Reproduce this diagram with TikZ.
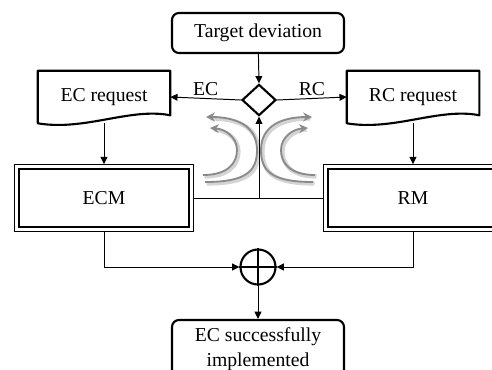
\documentclass[tikz,border=0pt]{standalone}
\usepackage{fontspec}
\setmainfont{Liberation Serif}
\usetikzlibrary{arrows.meta, positioning, shapes.geometric, calc}
\definecolor{swirlgray}{HTML}{8A8A8A}
\definecolor{shadegray}{HTML}{D4D4D4}

\begin{document}
\begin{tikzpicture}[
      x=0.025cm, y=-0.025cm,
      font=\fontsize{14}{17.5}\selectfont,
      termbox/.style={rectangle, rounded corners=5pt, draw, line width=1.5pt,
                      minimum width=4.3cm, minimum height=1cm, align=center},
      docbox/.style={rectangle, minimum width=3.3cm, minimum height=1.3cm, inner sep=0pt},
      docline/.style={line width=1.5pt, line join=round},
      modbox/.style={rectangle, draw, line width=1.2pt,
                     minimum width=4.25cm, minimum height=1.45cm},
      arr/.style={-{Triangle[length=1.8mm, width=1.7mm]}, line width=0.7pt},
      swirl/.style={-{Stealth[length=2.2mm, width=2.2mm]}, line width=1.3pt, swirlgray},
      shade/.style={line width=3pt, shadegray}
    ]
      \useasboundingbox (0,0) rectangle (492,369);

      % top of the flow
      \node[termbox] (target) at (258,33) {Target deviation};
      \node[diamond, draw, line width=1.5pt, minimum width=0.85cm, minimum height=0.78cm,
            inner sep=0pt] (split) at (259,100) {};
      \node[docbox] (ecreq) at (104,97) {EC request};
      \node[docbox] (rcreq) at (413,97) {RC request};

      % document outlines
      \draw[docline] (ecreq.south west) -- (ecreq.north west) -- (ecreq.north east)
        -- ([yshift=0.2cm]ecreq.south east)
        .. controls ([xshift=-1cm, yshift=0.4cm]ecreq.south east)
        and ([xshift=1.175cm, yshift=-0.2cm]ecreq.south west) .. cycle;
      \draw[docline] (rcreq.south west) -- (rcreq.north west) -- (rcreq.north east)
        -- ([yshift=0.2cm]rcreq.south east)
        .. controls ([xshift=-1cm, yshift=0.4cm]rcreq.south east)
        and ([xshift=1.175cm, yshift=-0.2cm]rcreq.south west) .. cycle;

      % modules
      \node[modbox] (ecm) at (104,198) {ECM};
      \node[modbox] (rm) at (413,198) {RM};
      \draw[line width=0.6pt] ([shift={(-0.1cm,0.1cm)}]ecm.north west)
        rectangle ([shift={(0.1cm,-0.1cm)}]ecm.south east);
      \draw[line width=0.6pt] ([shift={(-0.1cm,0.1cm)}]rm.north west)
        rectangle ([shift={(0.1cm,-0.1cm)}]rm.south east);

      % bottom of the flow
      \node[circle, draw, line width=1.5pt, minimum size=0.875cm, inner sep=0pt] (sum) at (258,267) {};
      \draw[line width=1.2pt] (sum.north) -- (sum.south) (sum.west) -- (sum.east);
      \node[termbox, minimum height=1.45cm] (done) at (258,349) {EC successfully\\implemented};

      % feedback swirls
      \begin{scope}[shift={(1.5,1.5)}]
        \draw[shade] (205,182) .. controls (245,182) and (257,172) .. (257,150)
          .. controls (257,125) and (235,117) .. (209,117);
        \draw[shade] (203,175) .. controls (228,175) and (237,163) .. (237,150)
          .. controls (237,137) and (225,129) .. (213,128);
        \draw[shade] (313,182) .. controls (273,182) and (261,172) .. (261,150)
          .. controls (261,125) and (283,117) .. (309,117);
        \draw[shade] (315,175) .. controls (290,175) and (281,163) .. (281,150)
          .. controls (281,137) and (293,129) .. (305,128);
      \end{scope}
      \draw[swirl] (205,182) .. controls (245,182) and (257,172) .. (257,150)
        .. controls (257,125) and (235,117) .. (206,117);
      \draw[swirl] (203,175) .. controls (228,175) and (237,163) .. (237,150)
        .. controls (237,137) and (225,129) .. (210,128);
      \draw[swirl] (313,182) .. controls (273,182) and (261,172) .. (261,150)
        .. controls (261,125) and (283,117) .. (312,117);
      \draw[swirl] (315,175) .. controls (290,175) and (281,163) .. (281,150)
        .. controls (281,137) and (293,129) .. (308,128);

      % connectors
      \coordinate (join) at (split.south |- ecm.east);
      \draw[arr] (target) -- (split.north);
      \draw[arr] (split.west) -- node[above, inner sep=2pt] {EC} (ecreq.east);
      \draw[arr] (split.east) -- node[above, inner sep=2pt] {RC} (rcreq.west);
      \draw[arr] (ecreq.south) -- ([yshift=0.1cm]ecm.north);
      \draw[arr] (rcreq.south) -- ([yshift=0.1cm]rm.north);
      \draw[line width=0.6pt] ([xshift=0.1cm]ecm.east) -- ([xshift=-0.1cm]rm.west);
      \draw[arr] (join) -- (split.south);
      \draw[arr] ([yshift=-0.1cm]ecm.south) |- (sum.west);
      \draw[arr] ([yshift=-0.1cm]rm.south) |- (sum.east);
      \draw[arr] (sum.south) -- (done.north);
    \end{tikzpicture}
\end{document}
